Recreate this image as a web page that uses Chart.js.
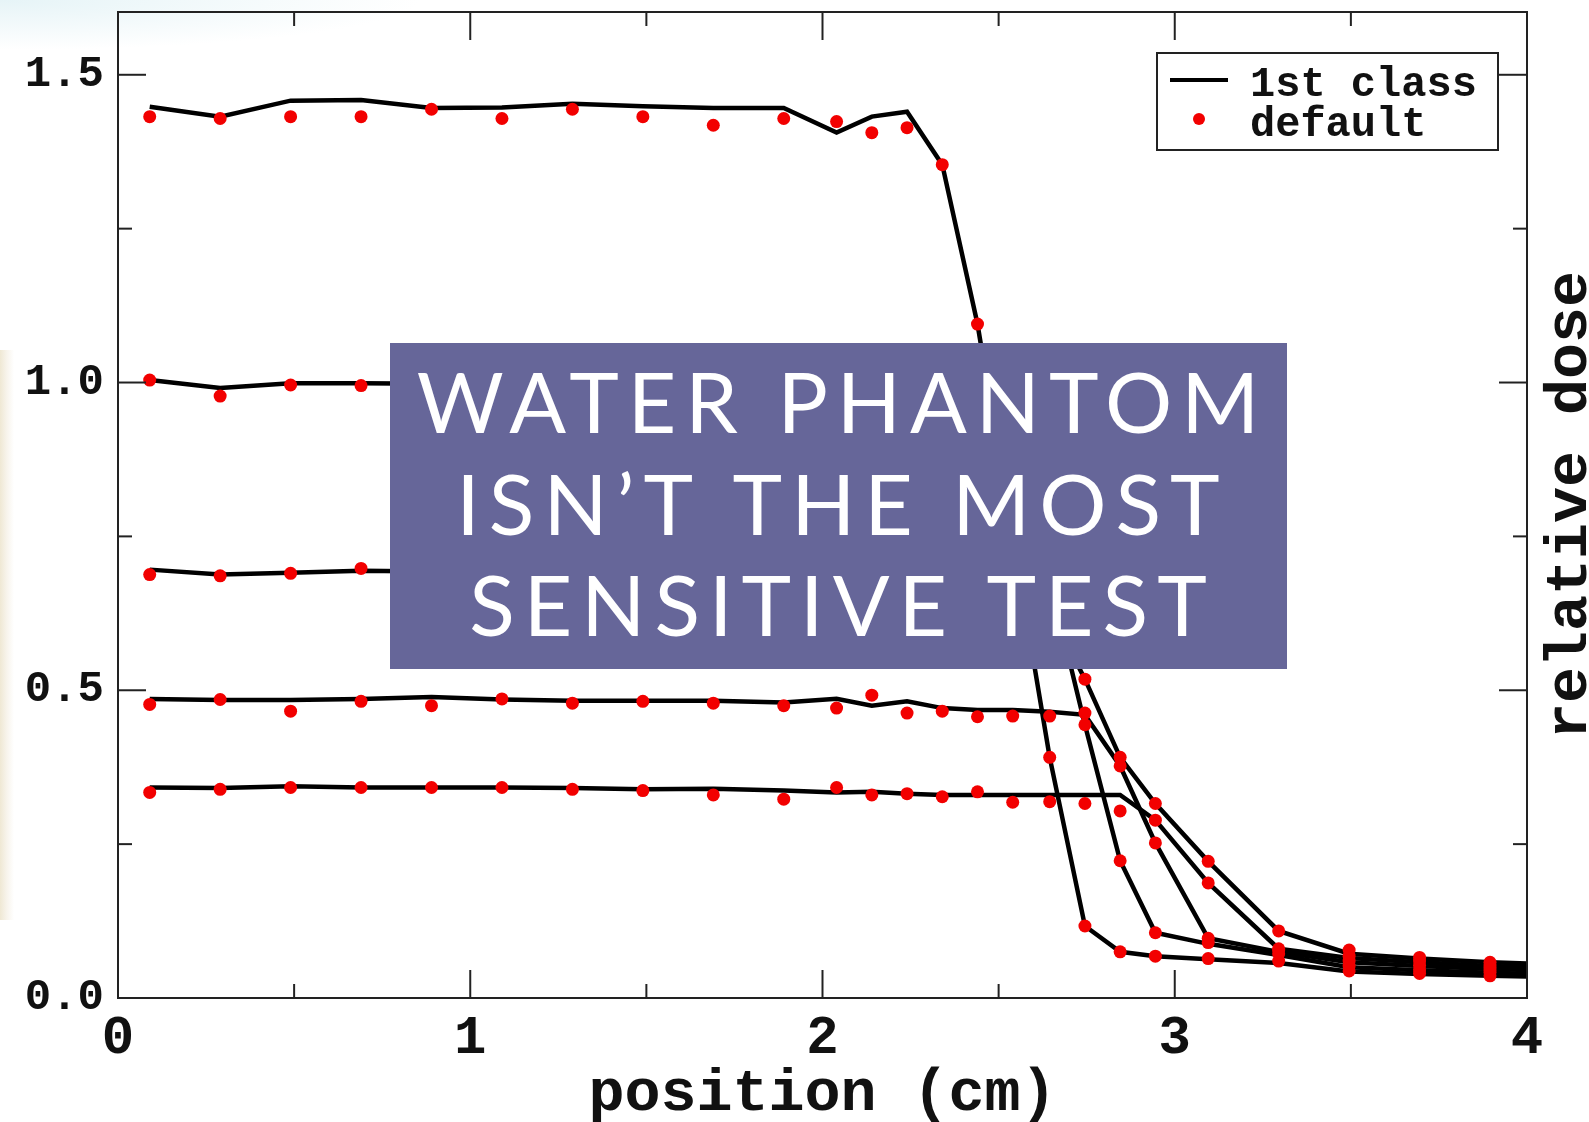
<!DOCTYPE html>
<html>
<head>
<meta charset="utf-8">
<script src="https://cdn.jsdelivr.net/npm/chart.js@4.4.1/dist/chart.umd.min.js"></script>
<style>
    html, body { margin: 0; padding: 0; background: #fff; }
    #wrap { position: relative; width: 1589px; height: 1122px; overflow: hidden;
        background: radial-gradient(ellipse 420px 50px at 0 0, #e6f4f7 0%, #ffffff 100%); }
    #strip { position: absolute; left: 0; top: 350px; width: 14px; height: 570px;
        background: linear-gradient(to right, #efe8d4 0%, #f7f3ea 45%, #ffffff 100%); }
    canvas { position: absolute; left: 0; top: 0; }
</style>
</head>
<body>
<div id="wrap">
    <div id="strip"></div>
    <canvas id="doseChart" width="1589" height="1122"></canvas>
</div>
<script>
// sample positions (cm)
const xDots = [0.09, 0.29, 0.49, 0.69, 0.89, 1.09, 1.29, 1.49, 1.69, 1.89, 2.04, 2.14, 2.24, 2.34, 2.44,
    2.54, 2.645, 2.745, 2.845, 2.945, 3.095, 3.295, 3.495, 3.695, 3.895];
const xLine = [0.09, 0.29, 0.49, 0.69, 0.89, 1.09, 1.29, 1.49, 1.69, 1.89, 2.04, 2.14, 2.24, 2.34, 2.44,
    2.54, 2.645, 2.745, 2.845, 2.945, 3.095, 3.295, 3.495, 3.695, 3.895, 4.095];

// "1st class" curves
const line1 = [1.448, 1.432, 1.458, 1.459, 1.446, 1.447, 1.453, 1.449, 1.446, 1.446, 1.406, 1.432, 1.440, 1.354, 1.095,
    0.75, 0.391, 0.117, 0.075, 0.068, 0.063, 0.057, 0.043, 0.039, 0.036, 0.034];
const line2 = [1.004, 0.991, 0.999, 0.999, 0.998, 0.997, 0.998, 0.996, 0.997, 0.995, 0.994, 0.990, 0.985, 0.975, 0.950,
    0.88, 0.68, 0.444, 0.223, 0.106, 0.088, 0.070, 0.050, 0.045, 0.041, 0.038];
const line3 = [0.696, 0.688, 0.691, 0.694, 0.693, 0.692, 0.694, 0.692, 0.691, 0.690, 0.690, 0.688, 0.687, 0.685, 0.680,
    0.670, 0.630, 0.518, 0.391, 0.316, 0.222, 0.109, 0.072, 0.064, 0.058, 0.054];
const line4 = [0.486, 0.484, 0.484, 0.486, 0.489, 0.485, 0.483, 0.483, 0.483, 0.480, 0.486, 0.475, 0.482, 0.471, 0.468,
    0.468, 0.465, 0.460, 0.377, 0.252, 0.097, 0.075, 0.058, 0.052, 0.047, 0.044];
const line5 = [0.342, 0.341, 0.344, 0.342, 0.342, 0.342, 0.341, 0.339, 0.340, 0.337, 0.334, 0.335, 0.332, 0.330, 0.330,
    0.330, 0.330, 0.330, 0.330, 0.289, 0.187, 0.080, 0.065, 0.058, 0.052, 0.049];

// "default" points
const dots1 = [1.432, 1.429, 1.432, 1.432, 1.444, 1.429, 1.444, 1.432, 1.418, 1.429, 1.424, 1.406, 1.414, 1.354, 1.095,
    0.76, 0.391, 0.117, 0.075, 0.068, 0.064, 0.060, 0.044, 0.040, 0.036];
const dots2 = [1.004, 0.978, 0.996, 0.995, 0.990, 1.000, 0.995, 0.998, 0.990, 0.995, 0.990, 0.985, 0.980, 0.970, 0.945,
    0.87, 0.67, 0.444, 0.223, 0.106, 0.090, 0.072, 0.052, 0.046, 0.042];
const dots3 = [0.688, 0.686, 0.690, 0.698, 0.690, 0.690, 0.692, 0.688, 0.690, 0.687, 0.690, 0.685, 0.688, 0.683, 0.678,
    0.668, 0.625, 0.518, 0.391, 0.316, 0.222, 0.109, 0.078, 0.066, 0.058];
const dots4 = [0.477, 0.485, 0.466, 0.482, 0.475, 0.486, 0.479, 0.482, 0.479, 0.475, 0.471, 0.492, 0.463, 0.466, 0.457,
    0.458, 0.458, 0.463, 0.377, 0.252, 0.097, 0.078, 0.060, 0.053, 0.047];
const dots5 = [0.334, 0.339, 0.342, 0.342, 0.342, 0.342, 0.339, 0.337, 0.330, 0.323, 0.342, 0.330, 0.332, 0.327, 0.335,
    0.318, 0.319, 0.316, 0.304, 0.289, 0.187, 0.080, 0.068, 0.060, 0.052];

const xMajor = [0, 1, 2, 3, 4];
const xMinor = [0.5, 1.5, 2.5, 3.5];
const yMajor = [0, 0.5, 1.0, 1.5];
const yMinor = [0.25, 0.75, 1.25];

const overlayLines = ["WATER PHANTOM", "ISN\u2019T THE MOST", "SENSITIVE TEST"];

const monoFont = '"Liberation Mono", "DejaVu Sans Mono", monospace';

function pairs(xs, ys) {
    return ys.map((y, i) => ({ x: xs[i], y: y }));
}

const lineSets = [line1, line2, line3, line4, line5].map(vals => ({
    label: "1st class",
    data: pairs(xLine, vals),
    borderColor: "#000",
    borderWidth: 4.5,
    pointRadius: 0,
    tension: 0,
    clip: 0,
    order: 2
}));
const dotSets = [dots1, dots2, dots3, dots4, dots5].map(vals => ({
    label: "default",
    data: pairs(xDots, vals),
    showLine: false,
    pointRadius: 6.5,
    pointBackgroundColor: "#f20000",
    pointBorderColor: "#f20000",
    pointBorderWidth: 0,
    order: 1
}));

function tick(ctx, x1, y1, x2, y2) {
    ctx.beginPath();
    ctx.moveTo(x1, y1);
    ctx.lineTo(x2, y2);
    ctx.stroke();
}

// no extra room for half-labels, the plot box is fixed
function noPad(s) {
    s.paddingTop = 0;
    s.paddingBottom = 0;
    s.paddingLeft = 0;
    s.paddingRight = 0;
}

const framePlugin = {
    id: "framePlugin",
    afterDatasetsDraw(chart) {
        const ctx = chart.ctx;
        const { left, right, top, bottom } = chart.chartArea;
        const xs = chart.scales.x, ys = chart.scales.y;
        ctx.save();
        ctx.strokeStyle = "#222";
        ctx.lineWidth = 2;
        ctx.strokeRect(left, top, right - left, bottom - top);
        xMajor.forEach(v => { const p = xs.getPixelForValue(v); tick(ctx, p, bottom, p, bottom - 28); tick(ctx, p, top, p, top + 28); });
        xMinor.forEach(v => { const p = xs.getPixelForValue(v); tick(ctx, p, bottom, p, bottom - 14); tick(ctx, p, top, p, top + 14); });
        yMajor.forEach(v => { const p = ys.getPixelForValue(v); tick(ctx, left, p, left + 28, p); tick(ctx, right, p, right - 28, p); });
        yMinor.forEach(v => { const p = ys.getPixelForValue(v); tick(ctx, left, p, left + 14, p); tick(ctx, right, p, right - 14, p); });

        // legend
        ctx.fillStyle = "#fff";
        ctx.fillRect(1157, 53, 341, 97);
        ctx.strokeRect(1157, 53, 341, 97);
        ctx.strokeStyle = "#000";
        ctx.lineWidth = 4;
        tick(ctx, 1170, 80, 1228, 80);
        ctx.fillStyle = "#f20000";
        ctx.beginPath();
        ctx.arc(1199, 119, 6, 0, Math.PI * 2);
        ctx.fill();
        ctx.fillStyle = "#111";
        ctx.font = "bold 42px " + monoFont;
        ctx.textAlign = "left";
        ctx.textBaseline = "alphabetic";
        ctx.fillText("1st class", 1250, 96);
        ctx.fillText("default", 1250, 136);

        // axis titles
        ctx.font = "bold 60px " + monoFont;
        ctx.textAlign = "center";
        ctx.fillText("position (cm)", (left + right) / 2, 1110);
        ctx.translate(1586, (top + bottom) / 2);
        ctx.rotate(-Math.PI / 2);
        ctx.fillText("relative dose", 0, 0);
        ctx.restore();
    },
    afterDraw(chart) {
        const ctx = chart.ctx;
        ctx.save();
        ctx.fillStyle = "#666699";
        ctx.fillRect(390, 343, 897, 326);
        ctx.fillStyle = "#fff";
        ctx.font = '400 84px Lato, "Open Sans", sans-serif';
        ctx.textAlign = "center";
        ctx.textBaseline = "alphabetic";
        ctx.letterSpacing = "9px";
        overlayLines.forEach((s, i) => ctx.fillText(s, 838 + 4.5, 433 + i * 101.5));
        ctx.restore();
    }
};

new Chart(document.getElementById("doseChart"), {
    type: "line",
    data: { datasets: [...dotSets, ...lineSets] },
    options: {
        responsive: false,
        animation: false,
        layout: { padding: { top: 12, left: 0, right: 0, bottom: 0 } },
        plugins: { legend: { display: false }, tooltip: { enabled: false } },
        scales: {
            x: {
                type: "linear",
                min: 0,
                max: 4,
                grid: { display: false, drawTicks: false },
                border: { display: false },
                ticks: {
                    stepSize: 1,
                    padding: 9,
                    color: "#111",
                    font: { family: monoFont, size: 54, weight: "bold" },
                    callback: v => String(v)
                },
                afterFit: s => { noPad(s); s.height = 124; }
            },
            y: {
                type: "linear",
                position: "left",
                min: 0,
                max: 1.602,
                grid: { display: false, drawTicks: false },
                border: { display: false },
                ticks: {
                    stepSize: 0.5,
                    includeBounds: false,
                    padding: 14,
                    color: "#111",
                    font: { family: monoFont, size: 44, weight: "bold" },
                    callback: v => v.toFixed(1)
                },
                afterFit: s => { noPad(s); s.width = 118; }
            },
            y2: {
                type: "linear",
                position: "right",
                min: 0,
                max: 1.602,
                grid: { display: false, drawTicks: false },
                border: { display: false },
                ticks: { display: false },
                afterFit: s => { noPad(s); s.width = 62; }
            }
        }
    },
    plugins: [framePlugin]
});
</script>
</body>
</html>
